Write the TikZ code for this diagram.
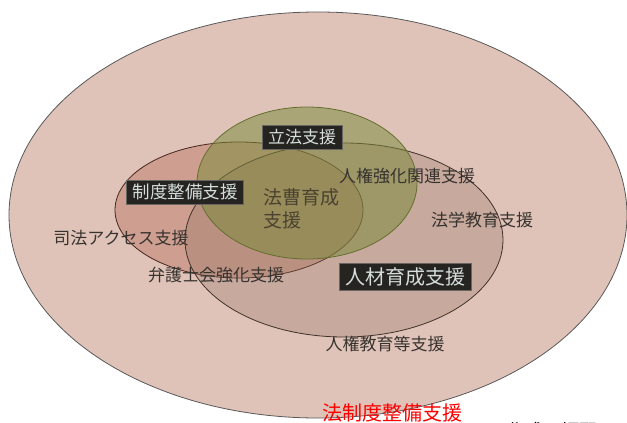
\documentclass[tikz,border=0pt]{standalone}
\usepackage{fontspec}
\newfontfamily\jp{Noto Sans CJK JP}
\definecolor{outerfill}{HTML}{E0C3B8}
\definecolor{pinkfill}{HTML}{B0604A}
\definecolor{brownfill}{HTML}{8F6F5F}
\definecolor{greenfill}{HTML}{7A8A3A}
\definecolor{boxfill}{HTML}{262420}
\definecolor{boxtext}{HTML}{D5DEDC}
\definecolor{lbltext}{HTML}{36322E}
\definecolor{hosotext}{HTML}{4A4230}
\tikzset{
  lbl/.style={font=\jp\fontsize{17}{19}\selectfont, text=lbltext, inner sep=0pt},
  darkbox/.style={fill=boxfill, draw=boxfill!70!white, line width=0.6pt, text=boxtext, inner xsep=6pt, inner ysep=4pt},
}
\begin{document}
\begin{tikzpicture}[x=1pt,y=-1pt]
\useasboundingbox (0,0) rectangle (627,423);
\begin{scope}
\clip (0,0) rectangle (627,423);
% outer ellipse
\draw[fill=outerfill, draw=black!65, line width=0.8pt] (318,215) ellipse [x radius=309, y radius=203];
% pink ellipse
\draw[fill=pinkfill, fill opacity=0.36, draw=black!60!pinkfill, line width=0.8pt] (239,210) ellipse [x radius=124, y radius=68];
% brown ellipse
\draw[fill=brownfill, fill opacity=0.3, draw=black!55!brownfill, line width=0.8pt] (344,240) ellipse [x radius=159, y radius=97];
% green ellipse
\draw[fill=greenfill, fill opacity=0.52, draw=greenfill!80!black, line width=0.8pt] (307,183) ellipse [x radius=110, y radius=76];

\node[darkbox, font=\jp\fontsize{17}{19}\selectfont] (rippo) at (302,137) {立法支援};
\node[darkbox, font=\jp\fontsize{17.5}{19}\selectfont] (seido) at (185,192) {制度整備支援};
\node[darkbox, font=\jp\fontsize{20}{22}\selectfont] (jinzai) at (405,277) {人材育成支援};
\node[lbl, font=\jp\fontsize{19}{23}\selectfont, align=left, text=hosotext] (hoso) at (301,209) {法曹育成\\支援};
\node[lbl] (jinken) at (407,176) {人権強化関連支援};
\node[lbl] (hogaku) at (482,220) {法学教育支援};
\node[lbl] (shiho) at (121,238) {司法アクセス支援};
\node[lbl] (bengo) at (216,275) {弁護士会強化支援};
\node[lbl] (jkyoiku) at (385,344) {人権教育等支援};
\node[font=\jp\fontsize{20}{22}\selectfont, text=red, inner sep=0pt] (title) at (392,413) {法制度整備支援};
\node[font=\jp\fontsize{18}{20}\selectfont, text=black, inner sep=0pt, anchor=west] (author) at (507,431) {作成：坂野};
\end{scope}
\end{tikzpicture}
\end{document}
